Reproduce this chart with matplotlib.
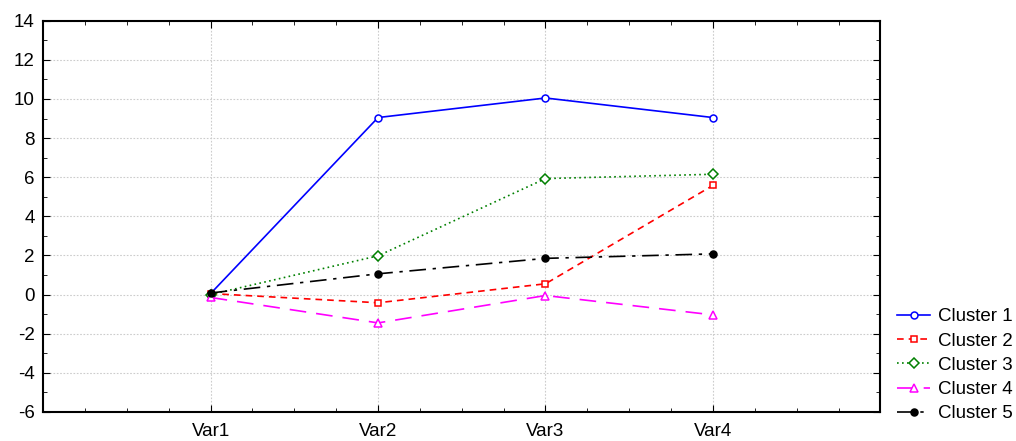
import matplotlib.pyplot as plt
from matplotlib.ticker import MultipleLocator

plt.rcParams['font.family'] = ['Liberation Sans', 'DejaVu Sans']
plt.rcParams['axes.unicode_minus'] = False

variables = ['Var1', 'Var2', 'Var3', 'Var4']
cluster1 = [0.05, 9.05, 10.05, 9.05]
cluster2 = [0.05, -0.42, 0.55, 5.58]
cluster3 = [0.0, 1.98, 5.93, 6.15]
cluster4 = [-0.15, -1.45, -0.05, -1.04]
cluster5 = [0.08, 1.06, 1.85, 2.08]

series = [
    ('Cluster 1', cluster1, dict(color='#0000ff', ls='-', marker='o', mfc='white')),
    ('Cluster 2', cluster2, dict(color='#ff0000', ls=(0, (4, 3)), marker='s', mfc='white')),
    ('Cluster 3', cluster3, dict(color='#008000', ls=(0, (1, 2)), marker='D', mfc='white', ms=5.5)),
    ('Cluster 4', cluster4, dict(color='#ff00ff', ls=(0, (10, 6)), marker='^', mfc='white', ms=6)),
    ('Cluster 5', cluster5, dict(color='black', ls=(0, (10, 4, 2, 4)), marker='o', mfc='black')),
]

fig = plt.figure(figsize=(10.16, 4.41), dpi=100)
ax = fig.add_axes([0.0425, 0.066, 0.824, 0.887])

xs = range(1, len(variables) + 1)
for name, vals, st in series:
    ax.plot(xs, vals, label=name, lw=1.2, markersize=st.pop('ms', 5),
            markeredgewidth=1.1, **st)

ax.set_xlim(0, 5)
ax.set_ylim(-6, 14)
ax.set_xticks(list(xs))
ax.set_xticklabels(variables)
ax.xaxis.set_minor_locator(MultipleLocator(0.25))
ax.yaxis.set_major_locator(MultipleLocator(2))
ax.yaxis.set_minor_locator(MultipleLocator(1))
ax.tick_params(which='both', direction='in', top=True, right=True, labelsize=13.5)
ax.tick_params(axis='y', pad=6)
ax.tick_params(axis='x', pad=8)
ax.tick_params(which='major', length=5)
ax.tick_params(which='minor', length=3)
ax.grid(True, which='major', color='#cccccc', ls=(0, (1.5, 1.5)), lw=0.8)
for sp in ax.spines.values():
    sp.set_linewidth(1.5)

ax.legend(loc='lower left', bbox_to_anchor=(1.0, -0.07), frameon=False,
          fontsize=13.5, handlelength=1.75, handletextpad=0.45, labelspacing=0.38,
          borderaxespad=0.5)

fig.savefig('out.png', dpi=100)
